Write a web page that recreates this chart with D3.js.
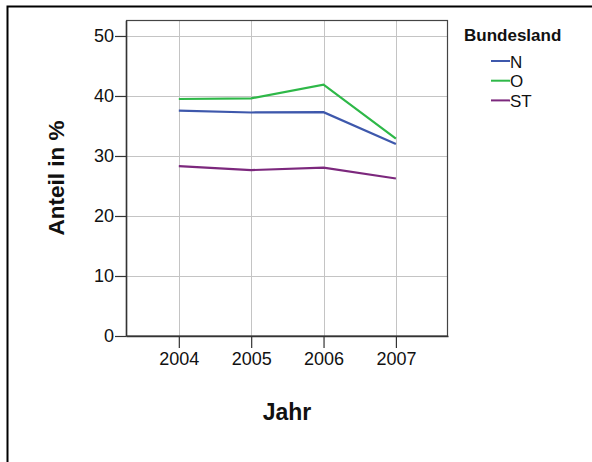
<!DOCTYPE html>
<html><head><meta charset="utf-8">
<script src="https://cdn.jsdelivr.net/npm/d3@7"></script>
<style>body{margin:0;background:#fff}svg{display:block}text{font-family:"Liberation Sans",Arial,sans-serif}</style>
</head><body>
<script>
const years = [2004, 2005, 2006, 2007];
const seriesNames = ["N", "O", "ST"];
const valuesN = [37.55, 37.25, 37.3, 32.0];
const valuesO = [39.5, 39.6, 41.9, 32.9];
const valuesST = [28.3, 27.65, 28.05, 26.25];
const yTicks = [0, 10, 20, 30, 40, 50];
const colors = ["#3E58AC", "#2EB848", "#7C287D"];

const series = [valuesN, valuesO, valuesST].map((v, i) => ({name: seriesNames[i], color: colors[i], values: v}));

const W = 592, H = 462;
const svg = d3.select("body").append("svg").attr("width", W).attr("height", H);

// outer frame (cropped on right/bottom)
svg.append("path").attr("d", `M7.5,${H+2} V6.5 H${W+2}`).attr("fill", "none").attr("stroke", "#000").attr("stroke-width", 2);

const L = 126, R = 448, T = 20.5, B = 336;
const x = d3.scaleLinear().domain([2003.27, 2007.72]).range([L, R]);
const y = d3.scaleLinear().domain([0, 52.58]).range([B, T]);

// grid
const g = svg.append("g");
g.selectAll(".hg").data(yTicks.filter(d => d > 0)).join("line")
  .attr("x1", L).attr("x2", R).attr("y1", d => Math.round(y(d)) + 0.5).attr("y2", d => Math.round(y(d)) + 0.5)
  .attr("stroke", "#c4c4c4").attr("stroke-width", 1);
g.selectAll(".vg").data(years).join("line")
  .attr("y1", T).attr("y2", B).attr("x1", d => Math.round(x(d)) + 0.5).attr("x2", d => Math.round(x(d)) + 0.5)
  .attr("stroke", "#c4c4c4").attr("stroke-width", 1);

// plot box
svg.append("rect").attr("x", L + 0.5).attr("y", T).attr("width", R - L - 1).attr("height", B - T)
  .attr("fill", "none").attr("stroke", "#444").attr("stroke-width", 1.2);

// axes
const yAxis = d3.axisLeft(y).tickValues(yTicks).tickSize(11).tickSizeOuter(0).tickPadding(1).tickFormat(d3.format("d"));
const ya = svg.append("g").attr("transform", `translate(${L},0)`).call(yAxis);
const xAxis = d3.axisBottom(x).tickValues(years).tickSize(12).tickSizeOuter(0).tickPadding(4).tickFormat(d3.format("d"));
const xa = svg.append("g").attr("transform", `translate(0,${B})`).call(xAxis);
[ya, xa].forEach(a => {
  a.attr("font-size", null).attr("font-family", null);
  a.select(".domain").attr("stroke", "#333").attr("stroke-width", 1.5);
  a.selectAll(".tick line").attr("stroke", "#333").attr("stroke-width", 1.2);
  a.selectAll(".tick text").attr("fill", "#111").style("font-size", "18px").style("font-family", '"Liberation Sans",Arial,sans-serif');
});

// lines
const line = d3.line().x((d, i) => x(years[i])).y(d => y(d));
svg.selectAll(".series").data(series).join("path")
  .attr("d", d => line(d.values)).attr("fill", "none")
  .attr("stroke", d => d.color).attr("stroke-width", 2.2).attr("stroke-linejoin", "miter");

// axis titles
svg.append("text").attr("transform", `translate(64,${178}) rotate(-90)`).attr("text-anchor", "middle")
  .style("font-size", "22.5px").style("font-weight", "bold").attr("fill", "#111").text("Anteil in %");
svg.append("text").attr("x", 287).attr("y", 420).attr("text-anchor", "middle")
  .style("font-size", "23px").style("font-weight", "bold").attr("fill", "#111").text("Jahr");

// legend
svg.append("text").attr("x", 464).attr("y", 41).style("font-size", "17px").style("font-weight", "bold").attr("fill", "#111").text("Bundesland");
const lg = svg.selectAll(".lg").data(series).join("g").attr("transform", (d, i) => `translate(0,${61 + i * 19.7})`);
lg.append("line").attr("x1", 491).attr("x2", 510).attr("y1", 0).attr("y2", 0).attr("stroke", d => d.color).attr("stroke-width", 2);
lg.append("text").attr("x", 510).attr("y", 6.5).style("font-size", "17px").attr("fill", "#111").text(d => d.name);
</script>
</body></html>
